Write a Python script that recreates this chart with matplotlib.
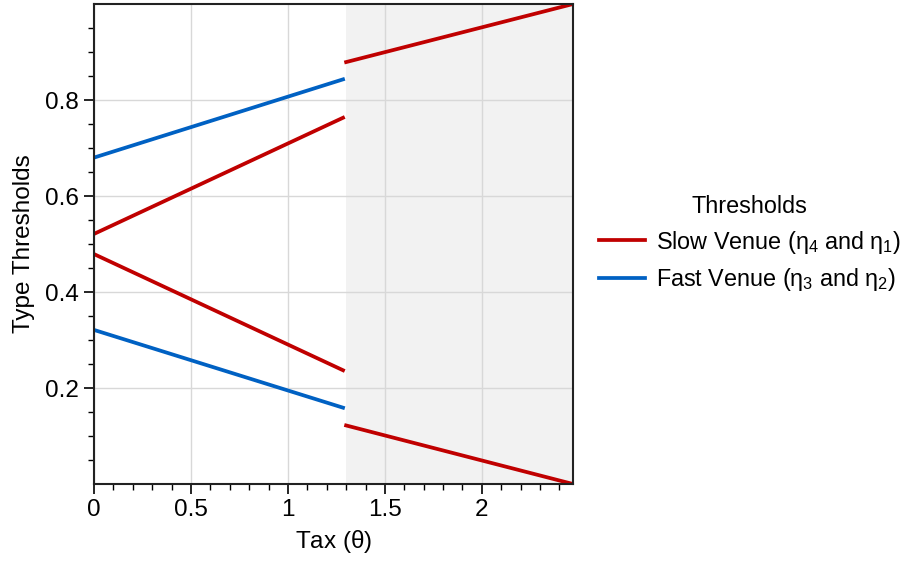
import matplotlib
matplotlib.use("Agg")
import matplotlib.pyplot as plt
from matplotlib.ticker import MultipleLocator, FixedLocator

plt.rcParams['font.family'] = ['Liberation Sans', 'DejaVu Sans']
plt.rcParams['mathtext.fontset'] = 'custom'
plt.rcParams['mathtext.rm'] = 'Liberation Sans'
plt.rcParams['mathtext.it'] = 'Liberation Sans'

# tax grid before / after the cutoff
tax_pre = [0.0, 1.284]
tax_post = [1.30, 2.47]
cutoff = 1.30

# slow venue thresholds (eta_4 upper, eta_1 lower)
slow_upper_pre = [0.521, 0.763]
slow_lower_pre = [0.479, 0.237]
slow_upper_post = [0.879, 1.0]
slow_lower_post = [0.122, 0.0]

# fast venue thresholds (eta_3 upper, eta_2 lower)
fast_upper_pre = [0.680, 0.843]
fast_lower_pre = [0.321, 0.159]

red = '#c00000'
blue = '#0061c3'
fs = 17.5
leg_fs = 16.8

fig = plt.figure(figsize=(9.1, 5.63), dpi=100)
ax = fig.add_axes([0.1033, 0.1403, 0.5264, 0.8526])

ax.axvspan(cutoff, tax_post[-1], color='#f2f2f2', zorder=0, lw=0)

lw = 2.7
ax.plot(tax_pre, slow_upper_pre, color=red, lw=lw, label=r'Slow Venue ($\eta_4$ and $\eta_1$)')
ax.plot(tax_pre, slow_lower_pre, color=red, lw=lw)
ax.plot(tax_post, slow_upper_post, color=red, lw=lw)
ax.plot(tax_post, slow_lower_post, color=red, lw=lw)
ax.plot(tax_pre, fast_upper_pre, color=blue, lw=lw, label=r'Fast Venue ($\eta_3$ and $\eta_2$)')
ax.plot(tax_pre, fast_lower_pre, color=blue, lw=lw)

ax.set_xlim(0, tax_post[-1])
ax.set_ylim(0, 1.0)

ax.xaxis.set_major_locator(FixedLocator([0, 0.5, 1, 1.5, 2]))
ax.xaxis.set_minor_locator(MultipleLocator(0.1))
ax.set_xticklabels(['0', '0.5', '1', '1.5', '2'])
ax.yaxis.set_major_locator(FixedLocator([0.2, 0.4, 0.6, 0.8]))
ax.yaxis.set_minor_locator(FixedLocator([0.05 * i for i in range(1, 20)]))
ax.set_yticklabels(['0.2', '0.4', '0.6', '0.8'])

ax.tick_params(which='major', direction='out', length=7, width=1.2, labelsize=fs, pad=4)
ax.tick_params(which='minor', direction='out', length=4, width=1.0)
ax.grid(True, which='major', color='#d8d8d8', lw=1.0)
ax.set_axisbelow(True)
for sp in ax.spines.values():
    sp.set_linewidth(1.5)
    sp.set_color('#222222')

ax.set_xlabel(r'Tax ($\theta$)', fontsize=fs, labelpad=5)
ax.set_ylabel('Type Thresholds', fontsize=fs, labelpad=7)

leg = ax.legend(loc='center left', bbox_to_anchor=(1.01, 0.5), frameon=False,
                fontsize=leg_fs, title='Thresholds', title_fontsize=leg_fs,
                handlelength=2.0, handletextpad=0.45, labelspacing=0.45)

fig.savefig('out.png', dpi=100)
